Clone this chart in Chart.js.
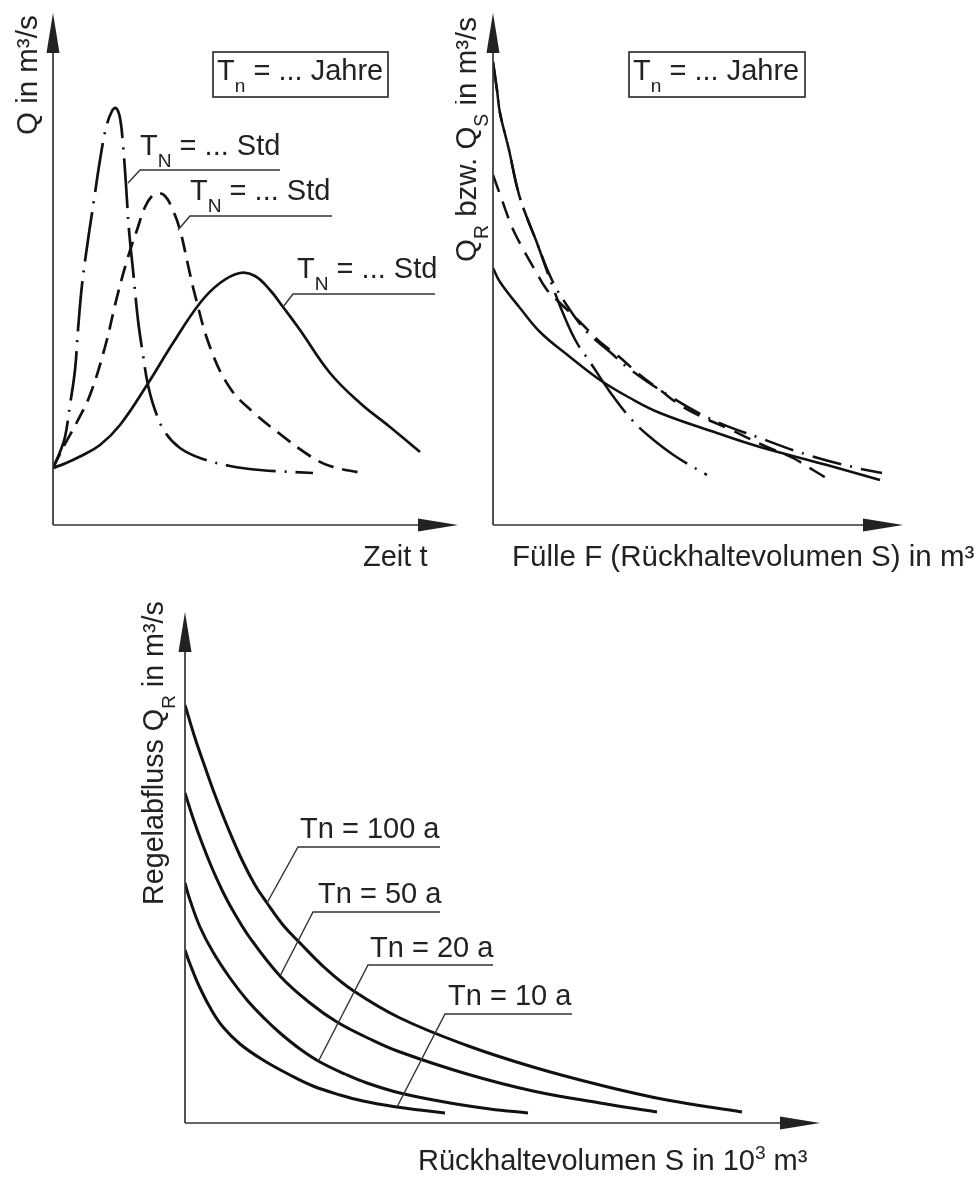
<!DOCTYPE html>
<html>
<head>
<meta charset="utf-8">
<script src="https://cdn.jsdelivr.net/npm/chart.js@4/dist/chart.umd.min.js"></script>
<style>
  body { margin: 0; background: #fff; width: 976px; height: 1178px; position: relative; overflow: hidden; }
  .panel { position: absolute; }
</style>
</head>
<body>
<div class="panel" style="left:0;top:0;width:470px;height:590px"><canvas id="hydro"></canvas></div>
<div class="panel" style="left:455px;top:0;width:521px;height:590px"><canvas id="fill"></canvas></div>
<div class="panel" style="left:0;top:590px;width:976px;height:588px"><canvas id="control"></canvas></div>
<script>
// Schematic curves (no tick values exist, units are arbitrary axis divisions)

// top left: flood hydrographs Q(t) for three rain durations
const shortT = [0, 1.75, 3, 4.25, 5.5, 6.25, 7.25, 8.75, 10.25, 11.75, 13.25, 14.75, 15.75, 16.75, 17.5, 18.25, 19, 20, 21.25, 22.5, 23.75, 25.5, 28, 31.75, 36.75, 44.25, 51.75, 65];
const shortQ = [11.4, 14.6, 17.6, 24, 31, 39, 48, 57, 65, 73, 79.4, 82.8, 83.4, 81.4, 76, 68, 59, 51, 41, 34, 28, 23, 18.6, 15.4, 13.4, 11.8, 11, 10.4];
const mediumT = [0, 3, 6, 9.25, 13, 16, 18.75, 21, 23, 24.75, 26.25, 28, 29.75, 31.75, 33.75, 35.5, 39.25, 44.25, 50, 56.75, 64.25, 69.25, 77.25];
const mediumQ = [11.4, 16.2, 20.6, 26, 35.6, 45.6, 53.6, 59, 63.6, 65.8, 66.4, 65.8, 63.4, 59, 52, 46, 35.6, 27.4, 22.6, 18.2, 13.8, 11.8, 10.4];
const longT = [0, 3, 6.75, 11.75, 16.75, 23.5, 30, 36.75, 41.75, 46.75, 50.5, 54.25, 57.5, 61.75, 69.25, 76.75, 84.25, 91.75];
const longQ = [11.4, 12.3, 13.7, 16, 20, 28, 36.4, 44.4, 48.4, 50.4, 49.8, 47, 43.6, 39, 30.4, 24.4, 19.6, 14.6];

// top right: outflow vs. filled volume
const steepF = [0, 1, 1.75, 4, 6, 7.5, 11, 14.75, 18, 21, 24.25, 29.25, 34.75, 39.25, 45.5, 53.5];
const steepQ = [92.6, 87, 82.4, 75, 67.6, 63.6, 56.4, 48, 41.4, 36.4, 32.6, 26.6, 21, 17.6, 13.8, 10];
const flatF = [0, 1, 1.75, 4, 6, 7.5, 11, 14.75, 19.25, 23.75, 29.25, 33.5, 43.75, 55, 66.75, 78.75, 91, 97.25];
const flatQ = [92.6, 87, 82.4, 75, 67.6, 63.6, 56.4, 49, 43, 38.4, 34.6, 31.6, 26, 21, 17.4, 14, 11.4, 10.4];
const dashedF = [0, 2.25, 4.75, 7.25, 10.5, 13.5, 16.75, 21.75, 26.75, 31, 36.75, 41.75, 46.75, 51.75, 58.5, 68.5, 75, 80, 83.75];
const dashedQ = [70, 65, 59.6, 55.6, 51, 47, 44.4, 40.6, 36.6, 34, 30, 27, 24, 21.8, 19.4, 15.6, 13.4, 11, 9.2];
const solidF = [0, 1.75, 6.75, 11.75, 19.25, 26.75, 34.25, 41.75, 56, 66.75, 83.5, 96.75];
const solidQ = [51.4, 48.6, 43.4, 38.6, 33.6, 29, 25.4, 22.4, 18.4, 15.6, 12, 9];

// bottom: control outflow vs. retention volume per return period
const returnPeriods = ['Tn = 100 a', 'Tn = 50 a', 'Tn = 20 a', 'Tn = 10 a'];
const s100 = [0, 2, 4, 6, 8.6, 11.4, 14, 16.4, 19.6, 23, 28, 33.6, 43, 56.4, 69.6, 83, 96.4, 111.4];
const q100 = [83.6, 77, 71.2, 65.6, 59, 52.6, 47.6, 44, 39.6, 36, 31, 26.5, 21, 15.5, 11.2, 7.6, 4.6, 2.2];
const s50 = [0, 1.6, 3.4, 5.4, 7.4, 9.4, 13, 19, 25, 30.4, 37, 43, 56.4, 69.6, 83, 94.4];
const q50 = [66, 61, 56, 51, 46.6, 42.8, 37, 29.4, 24, 20.2, 16.8, 14.2, 9.8, 6.4, 4, 2.2];
const s20 = [0, 1, 3, 5.6, 9, 12.4, 16, 19, 23, 27, 32, 36.4, 43, 53, 61, 68.6];
const q20 = [48, 44.6, 39.2, 34.2, 29, 24.6, 20.8, 18, 14.8, 12.2, 9.8, 8, 6, 4, 2.8, 2];
const s10 = [0, 1, 3, 5.4, 7.6, 11, 15.6, 21, 25.6, 31, 35.6, 42.4, 47, 52];
const q10 = [34.6, 31.8, 27, 22.4, 19.2, 15.8, 12.6, 9.6, 7.4, 5.6, 4.4, 3.2, 2.6, 2];

const FONT = '"Liberation Sans", Arial, sans-serif';
const INK = '#111';

function points(xs, ys) {
  return xs.map((x, i) => ({ x, y: ys[i] }));
}

function curve(label, xs, ys, dash, width) {
  return {
    label,
    data: points(xs, ys),
    borderColor: INK,
    borderWidth: width,
    borderDash: dash,
    borderCapStyle: 'butt',
    pointRadius: 0,
    tension: 0.4,
    fill: false,
  };
}

// parts: [[text], [text, 'sub'], [text, 'sup']]
function richText(ctx, parts, x, y, size) {
  let cx = x;
  for (const [t, kind] of parts) {
    const s = kind ? size * 0.66 : size;
    ctx.font = `${s}px ${FONT}`;
    const dy = kind === 'sub' ? size * 0.42 : kind === 'sup' ? -size * 0.38 : 0;
    ctx.fillText(t, cx, y + dy);
    cx += ctx.measureText(t).width;
  }
  return cx - x;
}

function arrow(ctx, x0, y0, x1, y1) {
  const len = 40, half = 6.5;
  const a = Math.atan2(y1 - y0, x1 - x0);
  const bx = x1 - Math.cos(a) * len, by = y1 - Math.sin(a) * len;
  ctx.beginPath();
  ctx.moveTo(x0, y0);
  ctx.lineTo(bx, by);
  ctx.stroke();
  ctx.beginPath();
  ctx.moveTo(x1, y1);
  ctx.lineTo(bx - Math.sin(a) * half, by + Math.cos(a) * half);
  ctx.lineTo(bx + Math.sin(a) * half, by - Math.cos(a) * half);
  ctx.closePath();
  ctx.fill();
}

// axes with arrows, leader lines with labels, framed notes, axis titles
function sketchPlugin(spec) {
  return {
    id: 'sketch',
    afterDatasetsDraw(chart) {
      const { ctx, chartArea: a, scales } = chart;
      const px = (p) => [scales.x.getPixelForValue(p[0]), scales.y.getPixelForValue(p[1])];
      ctx.save();
      ctx.textBaseline = 'alphabetic';
      ctx.strokeStyle = '#333';
      ctx.fillStyle = '#222';
      ctx.lineWidth = 1.7;
      arrow(ctx, a.left, a.bottom, a.left, a.top);
      arrow(ctx, a.left, a.bottom, a.right, a.bottom);

      ctx.lineWidth = 1.4;
      for (const n of spec.notes || []) {
        ctx.beginPath();
        n.leader.forEach((p, i) => {
          const [X, Y] = px(p);
          if (i) ctx.lineTo(X, Y); else ctx.moveTo(X, Y);
        });
        ctx.stroke();
        const [tx, ty] = px(n.at);
        richText(ctx, n.parts, tx, ty, spec.size);
      }

      for (const b of spec.boxes || []) {
        const [x0, y0] = px(b.from);
        const [x1, y1] = px(b.to);
        ctx.lineWidth = 1.7;
        ctx.strokeRect(x0, y0, x1 - x0, y1 - y0);
        const [tx, ty] = px(b.at);
        richText(ctx, b.parts, tx, ty, spec.size);
      }

      for (const t of spec.titles || []) {
        ctx.save();
        ctx.translate(a.left + t.dx, a.bottom + t.dy);
        if (t.rotate) ctx.rotate(-Math.PI / 2);
        richText(ctx, t.parts, 0, 0, t.size);
        ctx.restore();
      }
      ctx.restore();
    },
  };
}

function makeChart(id, datasets, xMax, yMax, padding, spec) {
  return new Chart(document.getElementById(id), {
    type: 'line',
    data: { datasets },
    options: {
      responsive: true,
      maintainAspectRatio: false,
      animation: false,
      devicePixelRatio: 1,
      layout: { padding },
      scales: {
        x: { type: 'linear', min: 0, max: xMax, display: false },
        y: { type: 'linear', min: 0, max: yMax, display: false },
      },
      plugins: { legend: { display: false }, tooltip: { enabled: false } },
    },
    plugins: [sketchPlugin(spec)],
  });
}

const yearsNote = [['T'], ['n', 'sub'], [' = ... Jahre']];
const hoursNote = [['T'], ['N', 'sub'], [' = ... Std']];

makeChart('hydro', [
  curve('kurz', shortT, shortQ, [50, 9, 2, 9], 2.7),
  curve('mittel', mediumT, mediumQ, [16, 9], 2.7),
  curve('lang', longT, longQ, [], 2.7),
], 101.25, 102.4, { left: 53, top: 13, right: 12, bottom: 65 }, {
  size: 29,
  notes: [
    { parts: hoursNote, at: [21.75, 74], leader: [[18.75, 68.4], [21.75, 71], [56.75, 71]] },
    { parts: hoursNote, at: [34.25, 65], leader: [[31.25, 59], [34.25, 61.8], [69.75, 61.8]] },
    { parts: hoursNote, at: [61, 49.4], leader: [[57.5, 43.6], [60, 46.2], [95.5, 46.2]] },
  ],
  boxes: [{ parts: yearsNote, from: [40, 94.6], to: [83.75, 85.6], at: [41, 89] }],
  titles: [
    { parts: [['Zeit t']], dx: 310, dy: 41, size: 29 },
    { parts: [['Q in m³/s']], dx: -16, dy: -390, size: 29.5, rotate: true },
  ],
});

makeChart('fill', [
  curve('steil', steepF, steepQ, [60, 9, 2, 9], 2.5),
  curve('flach', flatF, flatQ, [30, 9, 2, 9], 2.5),
  curve('gestrichelt', dashedF, dashedQ, [18, 10], 2.5),
  curve('durchgezogen', solidF, solidQ, [], 2.5),
], 102.5, 102.4, { left: 38, top: 13, right: 73, bottom: 65 }, {
  size: 29,
  boxes: [{ parts: yearsNote, from: [34, 94.6], to: [78, 85.6], at: [35, 89] }],
  titles: [
    { parts: [['Fülle F (Rückhaltevolumen S) in m³']], dx: 19, dy: 41, size: 29.5 },
    { parts: [['Q'], ['R', 'sub'], [' bzw. Q'], ['S', 'sub'], [' in m³/s']], dx: -17, dy: -263, size: 29.5, rotate: true },
  ],
});

makeChart('control', [
  curve(returnPeriods[0], s100, q100, [], 3),
  curve(returnPeriods[1], s50, q50, [], 3),
  curve(returnPeriods[2], s20, q20, [], 3),
  curve(returnPeriods[3], s10, q10, [], 3),
], 127, 102.2, { left: 185, top: 22, right: 156, bottom: 55 }, {
  size: 29,
  notes: [
    { parts: [[returnPeriods[0]]], at: [23, 57], leader: [[16.4, 44], [22.6, 55.2], [51, 55.2]] },
    { parts: [[returnPeriods[1]]], at: [26.6, 44], leader: [[19, 29.4], [25.6, 42.2], [51, 42.2]] },
    { parts: [[returnPeriods[2]]], at: [37, 33.2], leader: [[26.6, 12.2], [36.6, 31.6], [61.6, 31.6]] },
    { parts: [[returnPeriods[3]]], at: [52.6, 23.6], leader: [[42.4, 3.2], [52, 21.8], [77.4, 21.8]] },
  ],
  titles: [
    { parts: [['Rückhaltevolumen S in 10'], ['3', 'sup'], [' m³']], dx: 233, dy: 47, size: 29 },
    { parts: [['Regelabfluss Q'], ['R', 'sub'], [' in m³/s']], dx: -22, dy: -218, size: 28.7, rotate: true },
  ],
});
</script>
</body>
</html>
